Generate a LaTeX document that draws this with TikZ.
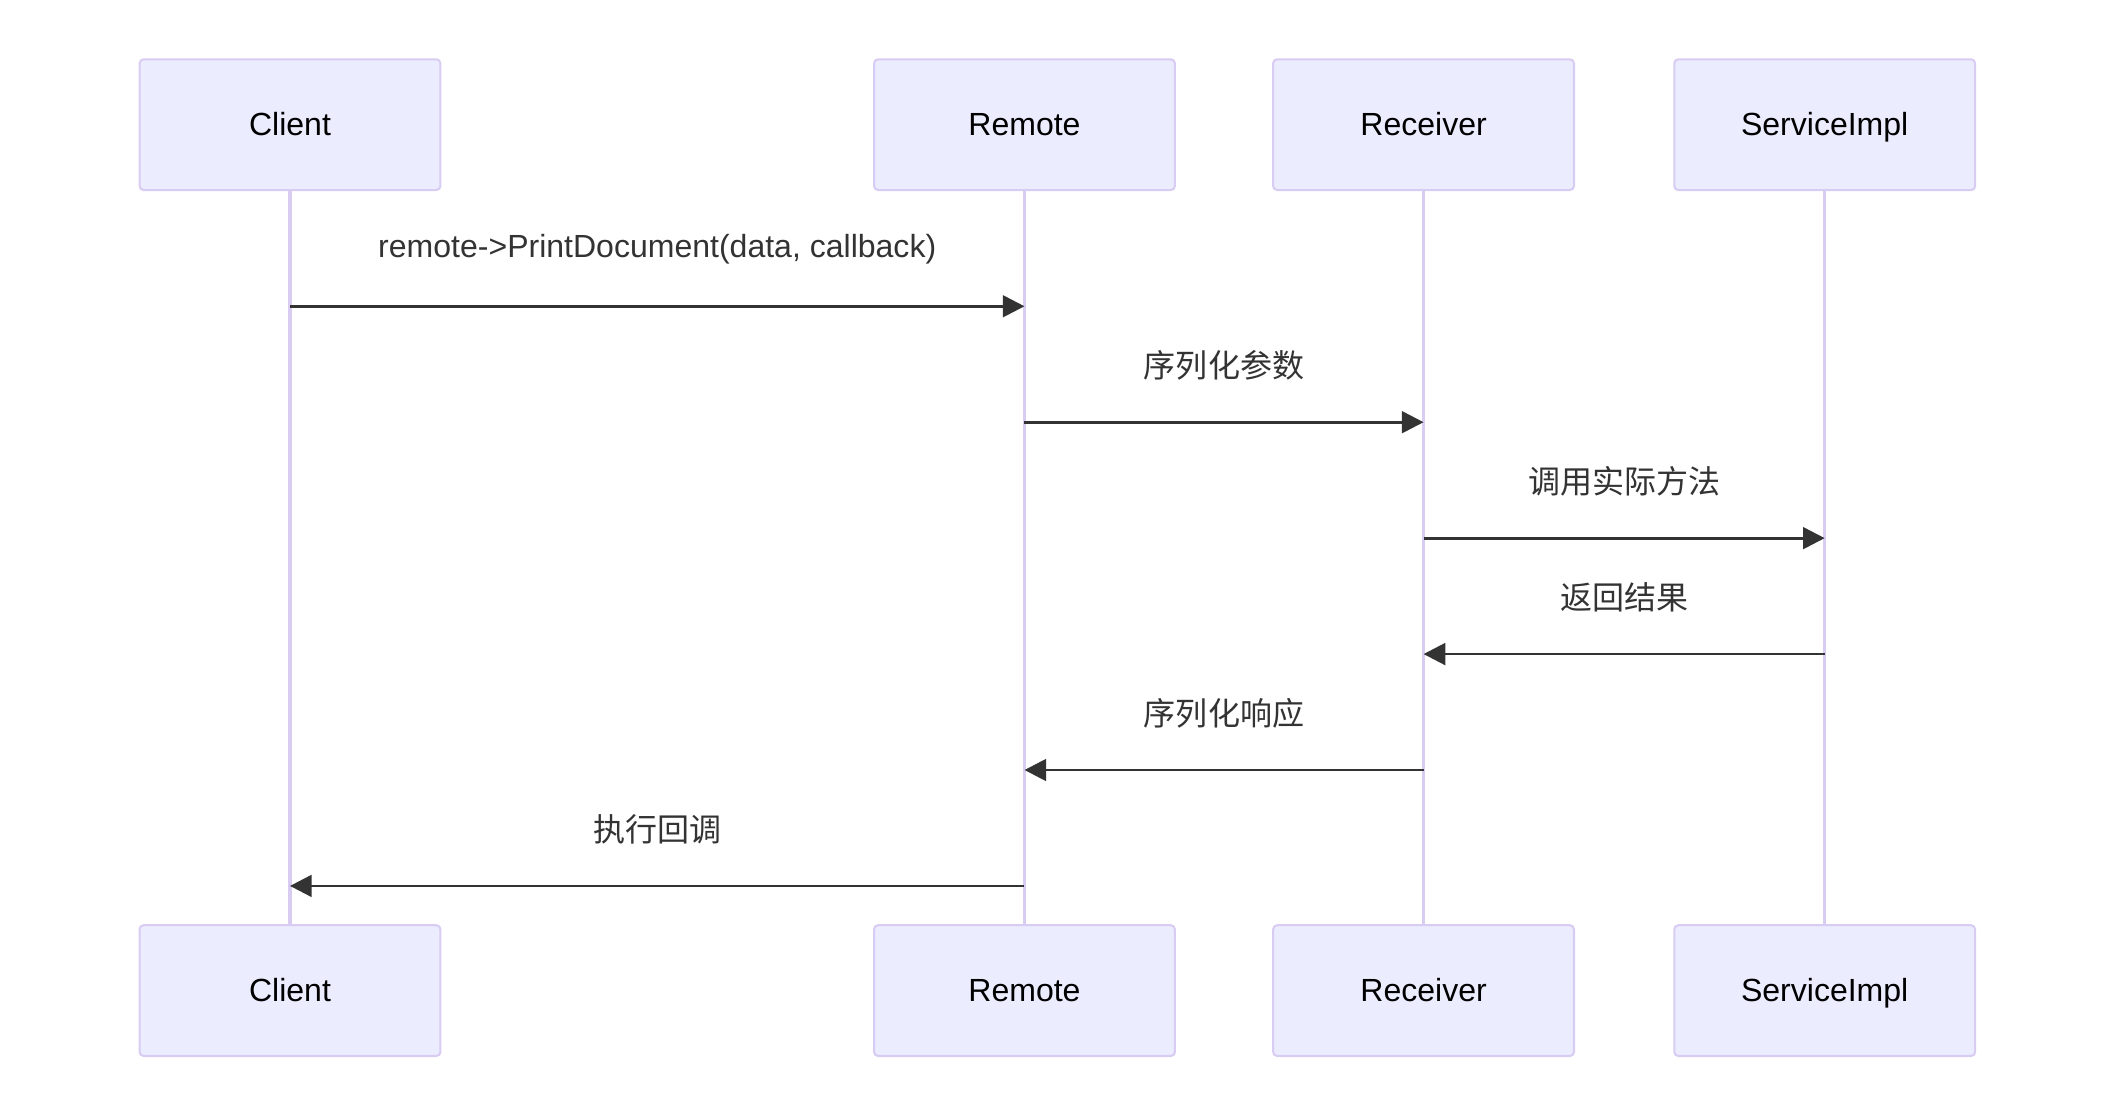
\documentclass[tikz,border=0pt]{standalone}
\usepackage{fontspec}
\setmainfont{Liberation Sans}
\newfontfamily\cjk{Noto Sans CJK SC}
\usetikzlibrary{arrows.meta}
\definecolor{actorfill}{HTML}{ECECFF}
\definecolor{actorline}{HTML}{D8CCF3}
\definecolor{signal}{HTML}{333333}
\tikzset{
  >={Triangle[length=0.32cm,width=0.32cm]},
  my actor/.style={
    draw=actorline,
    fill=actorfill,
    line width=0.85pt,
    minimum width=4.44cm,
    minimum height=1.93cm,
    text height=1.2em,
    text depth=0.25em,
    rounded corners=0.6mm,
    rectangle
  },
  my lifeline/.style={
    draw=actorline,
    line width=1.5pt
  },
  my message/.style={
    draw=signal,
    line width=1.2pt
  },
  my label/.style={
    yshift=0.84cm,
    text=signal
  }
}
\begin{document}
\begin{tikzpicture}[font=\fontsize{13.45pt}{16pt}\selectfont]
\useasboundingbox (0,0) rectangle (31.2,-16.5);
% actors, top and bottom
\node[my actor] (client)    at (4.28,-1.84)  {Client};
\node[my actor] (remote)    at (15.12,-1.84) {Remote};
\node[my actor] (receiver)  at (21.01,-1.84) {Receiver};
\node[my actor] (impl)      at (26.93,-1.84) {ServiceImpl};
\node[my actor] (client2)   at (4.28,-14.62)  {Client};
\node[my actor] (remote2)   at (15.12,-14.62) {Remote};
\node[my actor] (receiver2) at (21.01,-14.62) {Receiver};
\node[my actor] (impl2)     at (26.93,-14.62) {ServiceImpl};
% lifelines
\path[every edge/.style={my lifeline}]
  (client)   edge (client2)
  (remote)   edge (remote2)
  (receiver) edge (receiver2)
  (impl)     edge (impl2);
% message rows
\foreach \i in {1,...,6}
  \coordinate (row\i) at (0,{-4.52-1.711*(\i-1)});
\path[->,every edge/.style={my message}]
  (client |- row1)   edge node[my label] {remote->PrintDocument(data, callback)} (remote |- row1)
  (remote |- row2)   edge node[my label] {\cjk 序列化参数} (receiver |- row2)
  (receiver |- row3) edge node[my label] {\cjk 调用实际方法} (impl |- row3)
  (impl |- row4)     edge node[my label] {\cjk 返回结果} (receiver |- row4)
  (receiver |- row5) edge node[my label] {\cjk 序列化响应} (remote |- row5)
  (remote |- row6)   edge node[my label] {\cjk 执行回调} (client |- row6);
\end{tikzpicture}
\end{document}
